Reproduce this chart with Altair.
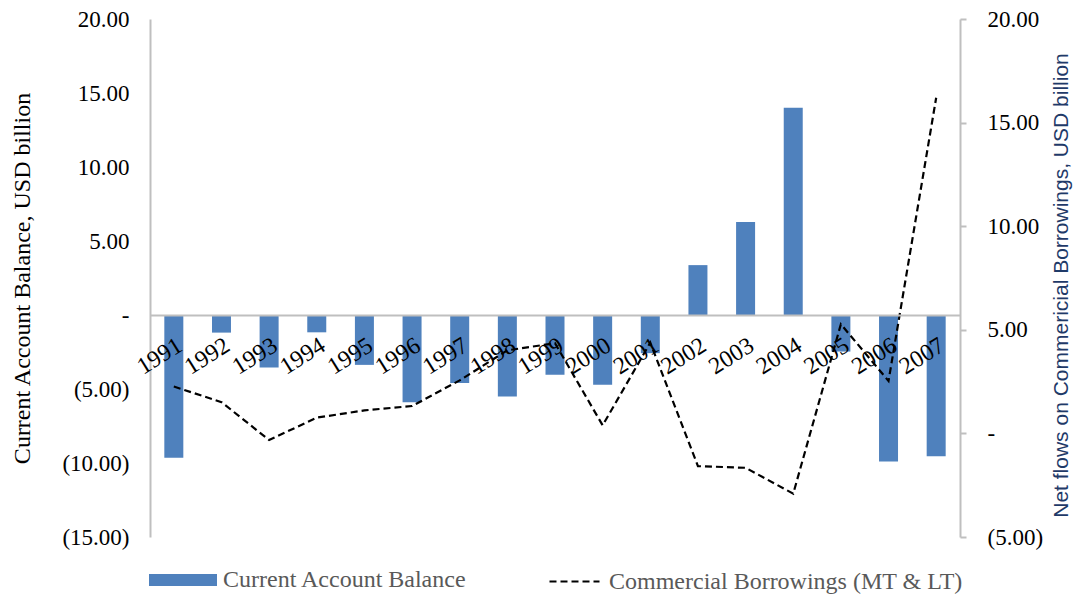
import altair as alt
import pandas as pd

years = [str(y) for y in range(1991, 2008)]
current_account = [-9.65, -1.19, -3.55, -1.17, -3.37, -5.9, -4.6, -5.5, -4.04,
                   -4.71, -2.58, 3.37, 6.28, 14.0, -2.47, -9.9, -9.54]
commercial_borrowings = [2.26, 1.51, -0.32, 0.76, 1.11, 1.32, 2.56, 4.01, 4.35,
                         0.39, 4.38, -1.58, -1.66, -2.91, 5.27, 2.53, 16.2]
left_ticks = [-15, -10, -5, 0, 5, 10, 15, 20]
right_ticks = [-5, 0, 5, 10, 15, 20]
bar_name = "Current Account Balance"
line_name = "Commercial Borrowings (MT & LT)"

df = pd.DataFrame({
    "year": years,
    "cab": current_account,
    "ecb": commercial_borrowings,
    "s1": [bar_name] * len(years),
    "s2": [line_name] * len(years),
})

W, H = 810, 518
y0 = H * 20 / 35
SERIF = "Liberation Serif"
GRAY = "#BFBFBF"

x_axis = alt.Axis(
    title=None, orient="bottom", offset=-(H - y0), domainColor=GRAY, domainWidth=2,
    ticks=False, labelAngle=-32, labelAlign="right", labelBaseline="top",
    labelPadding=18, labelFont=SERIF, labelFontSize=24, labelColor="black",
    labelOverlap=False, zindex=2,
)
x_enc = alt.X("year:N", sort=years, scale=alt.Scale(paddingInner=0, paddingOuter=0), axis=x_axis)

left_label = ("datum.value == 0 ? '-\u2007\u2008' : (datum.value < 0 ? '(' + format(-datum.value, '.2f') + ')' "
              ": format(datum.value, '.2f') + '\u2008')")
right_label = ("datum.value == 0 ? '-' : (datum.value < 0 ? '(' + format(-datum.value, '.2f') + ')' "
               ": format(datum.value, '.2f'))")

bars = alt.Chart(df).mark_bar(size=19, color="#4F81BD").encode(
    x=x_enc,
    y=alt.Y("cab:Q", scale=alt.Scale(domain=[-15, 20], nice=False, zero=True),
            axis=alt.Axis(orient="left", values=left_ticks, labelExpr=left_label, grid=False,
                          ticks=False, domainColor=GRAY, domainWidth=2, labelPadding=21,
                          labelFont=SERIF, labelFontSize=23, labelColor="black",
                          title="Current Account Balance, USD billion", titleFont=SERIF,
                          titleFontSize=24, titleFontWeight="normal", titleColor="black",
                          titleAngle=270, titleX=-128, titleY=259, titleAlign="center",
                          titleBaseline="middle")),
    color=alt.Color("s1:N", scale=alt.Scale(domain=[bar_name], range=["#4F81BD"]),
                    legend=alt.Legend(title=None, orient="none", legendX=-1, legendY=527,
                                      symbolType="M-1,-0.176H1V0.176H-1Z", symbolSize=4624,
                                      symbolStrokeWidth=0, labelFont=SERIF, labelFontSize=24,
                                      labelColor="#595959", labelOffset=6, labelLimit=0,
                                      padding=0)),
)

line = alt.Chart(df).mark_line(color="black", strokeWidth=2.2).encode(
    x=x_enc,
    y=alt.Y("ecb:Q", scale=alt.Scale(domain=[-5, 20], nice=False),
            axis=alt.Axis(orient="right", values=right_ticks, labelExpr=right_label, grid=False,
                          ticks=True, tickSize=6, tickColor=GRAY, tickWidth=2,
                          domainColor=GRAY, domainWidth=2, labelPadding=21,
                          labelFont=SERIF, labelFontSize=23, labelColor="black",
                          title="Net flows on Commericial Borrowings, USD billion",
                          titleFont="Liberation Sans", titleFontSize=21,
                          titleFontWeight="normal", titleColor="#1F3A68",
                          titleAngle=270, titleX=101, titleY=266, titleAlign="center",
                          titleBaseline="middle")),
    strokeDash=alt.StrokeDash("s2:N", scale=alt.Scale(domain=[line_name], range=[[7, 4]]),
                              legend=alt.Legend(title=None, orient="none", legendX=398, legendY=536,
                                                symbolType="stroke", symbolSize=2500,
                                                symbolStrokeColor="black", symbolStrokeWidth=2.2,
                                                labelFont=SERIF, labelFontSize=24,
                                                labelColor="#595959", labelOffset=8, labelLimit=0,
                                                padding=0)),
)

chart = alt.layer(bars, line).resolve_scale(y="independent", color="independent").properties(
    width=W, height=H,
    autosize=alt.AutoSizeParams(type="none"),
    padding={"left": 142, "top": 11, "right": 113, "bottom": 58},
    background="white",
).configure_view(stroke=None)

chart.save("out.html", embed_options={"renderer": "svg", "actions": False})
